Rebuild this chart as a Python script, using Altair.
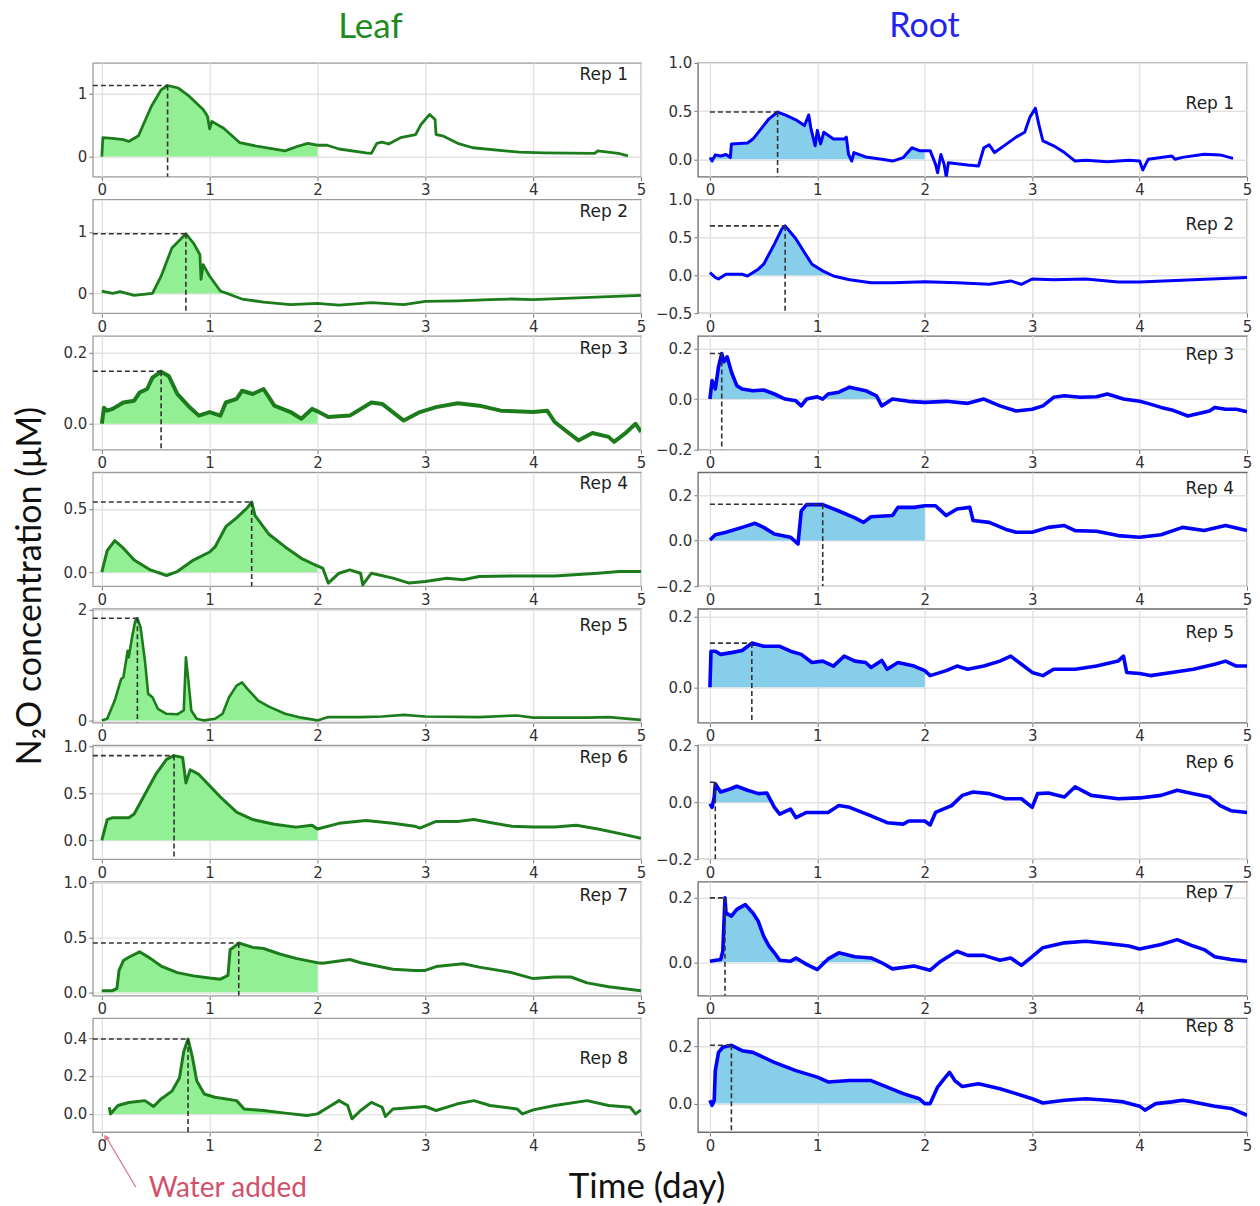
import altair as alt
import pandas as pd

# ---------------- Leaf series (time in days, N2O in uM) ----------------
leaf1_t = [0, 0.01, 0.1, 0.2, 0.25, 0.34, 0.46, 0.55, 0.61, 0.71, 0.81, 0.94, 0.98, 1.0, 1.02, 1.13, 1.28, 1.45, 1.7, 1.81,
           1.91, 2.0, 2.09, 2.2, 2.45, 2.5, 2.55, 2.6, 2.66, 2.77, 2.91, 2.96, 3.04, 3.09, 3.1, 3.16, 3.3, 3.44, 3.87, 4.1,
           4.57, 4.6, 4.79, 4.88]
leaf1_v = [0, 0.30, 0.29, 0.27, 0.24, 0.33, 0.80, 1.06, 1.13, 1.09, 0.96, 0.75, 0.64, 0.44, 0.56, 0.45, 0.22, 0.16, 0.09, 0.16,
           0.21, 0.18, 0.18, 0.12, 0.06, 0.05, 0.21, 0.23, 0.20, 0.30, 0.35, 0.51, 0.67, 0.59, 0.35, 0.33, 0.21, 0.14, 0.07, 0.06,
           0.05, 0.09, 0.05, 0.01]
leaf2_t = [0, 0.1, 0.17, 0.3, 0.47, 0.55, 0.65, 0.78, 0.85, 0.91, 0.92, 0.94, 1.0, 1.1, 1.3, 1.5, 1.75, 2.0, 2.2, 2.5,
           2.8, 3.0, 3.3, 3.6, 3.8, 4.0, 5.0]
leaf2_v = [0.04, 0.0, 0.03, -0.03, 0.0, 0.28, 0.74, 0.97, 0.82, 0.63, 0.23, 0.47, 0.28, 0.04, -0.09, -0.14, -0.18, -0.16, -0.19, -0.15,
           -0.18, -0.13, -0.12, -0.10, -0.09, -0.10, -0.03]
leaf3_t = [0, 0.02, 0.05, 0.1, 0.2, 0.3, 0.35, 0.42, 0.47, 0.55, 0.62, 0.7, 0.8, 0.9, 1.0, 1.1, 1.15, 1.25, 1.3, 1.4,
           1.5, 1.6, 1.75, 1.85, 1.95, 2.0, 2.1, 2.3, 2.5, 2.6, 2.8, 2.95, 3.1, 3.3, 3.5, 3.7, 4.0, 4.13, 4.2, 4.3,
           4.42, 4.55, 4.7, 4.75, 4.85, 4.95, 5.0]
leaf3_v = [0.0, 0.045, 0.037, 0.042, 0.06, 0.065, 0.088, 0.098, 0.13, 0.147, 0.135, 0.084, 0.051, 0.023, 0.033, 0.023, 0.06, 0.07, 0.093, 0.084,
           0.098, 0.051, 0.033, 0.014, 0.042, 0.035, 0.019, 0.023, 0.06, 0.056, 0.009, 0.033, 0.047, 0.058, 0.051, 0.037, 0.033, 0.037, 0.005, -0.019,
           -0.047, -0.026, -0.037, -0.051, -0.028, 0.0, -0.023]
leaf4_t = [0, 0.05, 0.12, 0.2, 0.3, 0.45, 0.6, 0.7, 0.85, 1.0, 1.05, 1.15, 1.25, 1.35, 1.39, 1.42, 1.55, 1.7, 1.85, 1.98,
           2.0, 2.05, 2.1, 2.2, 2.3, 2.4, 2.42, 2.5, 2.7, 2.85, 3.0, 3.2, 3.35, 3.5, 3.8, 4.2, 4.6, 4.8, 5.0]
leaf4_v = [0.0, 0.17, 0.25, 0.19, 0.096, 0.018, -0.026, 0.005, 0.096, 0.16, 0.2, 0.36, 0.43, 0.51, 0.555, 0.45, 0.30, 0.2, 0.11, 0.057,
           0.05, 0.03, -0.086, -0.008, 0.018, -0.008, -0.1, -0.008, -0.047, -0.086, -0.073, -0.047, -0.06, -0.034, -0.029, -0.029, -0.008, 0.005, 0.005]
leaf5_t = [0, 0.05, 0.12, 0.18, 0.2, 0.22, 0.24, 0.25, 0.28, 0.31, 0.33, 0.36, 0.4, 0.43, 0.47, 0.52, 0.6, 0.7, 0.76, 0.78,
           0.8, 0.83, 0.88, 0.95, 1.05, 1.12, 1.18, 1.25, 1.3, 1.35, 1.45, 1.55, 1.7, 1.85, 2.0, 2.1, 2.4, 2.6, 2.8, 3.0,
           3.5, 3.85, 4.0, 4.5, 4.7, 5.0]
leaf5_v = [0, 0.03, 0.36, 0.75, 0.78, 1.02, 1.26, 1.14, 1.5, 1.8, 1.85, 1.68, 1.08, 0.48, 0.42, 0.21, 0.12, 0.11, 0.18, 1.14,
           0.78, 0.18, 0.03, 0.0, 0.03, 0.12, 0.42, 0.63, 0.69, 0.57, 0.36, 0.25, 0.12, 0.05, 0.0, 0.06, 0.06, 0.07, 0.10, 0.07,
           0.06, 0.09, 0.05, 0.05, 0.06, 0.01]
leaf6_t = [0, 0.05, 0.1, 0.25, 0.3, 0.4, 0.5, 0.6, 0.67, 0.75, 0.78, 0.82, 0.9, 1.0, 1.1, 1.25, 1.4, 1.6, 1.8, 1.95,
           2.0, 2.2, 2.45, 2.7, 2.9, 2.95, 3.1, 3.3, 3.45, 3.6, 3.8, 4.0, 4.2, 4.4, 4.6, 4.85, 5.0]
leaf6_v = [0, 0.22, 0.24, 0.24, 0.28, 0.49, 0.70, 0.86, 0.90, 0.88, 0.61, 0.75, 0.70, 0.58, 0.46, 0.30, 0.22, 0.17, 0.14, 0.16,
           0.12, 0.18, 0.21, 0.18, 0.15, 0.13, 0.2, 0.2, 0.22, 0.19, 0.15, 0.14, 0.14, 0.16, 0.12, 0.06, 0.02]
leaf7_t = [0, 0.1, 0.14, 0.16, 0.2, 0.25, 0.35, 0.45, 0.55, 0.7, 0.85, 1.0, 1.1, 1.17, 1.19, 1.22, 1.27, 1.4, 1.5, 1.65,
           1.8, 1.95, 2.0, 2.05, 2.15, 2.3, 2.4, 2.55, 2.7, 2.9, 3.0, 3.1, 3.35, 3.5, 3.8, 4.0, 4.2, 4.35, 4.5, 4.7, 5.0]
leaf7_v = [0.015, 0.015, 0.036, 0.2, 0.29, 0.32, 0.37, 0.31, 0.24, 0.18, 0.15, 0.13, 0.12, 0.155, 0.39, 0.41, 0.45, 0.41, 0.40, 0.35,
           0.31, 0.28, 0.27, 0.265, 0.28, 0.30, 0.27, 0.24, 0.21, 0.2, 0.2, 0.235, 0.26, 0.23, 0.18, 0.125, 0.14, 0.14, 0.086, 0.05, 0.015]
leaf8_t = [0.07, 0.08, 0.15, 0.25, 0.4, 0.48, 0.55, 0.65, 0.72, 0.76, 0.8, 0.84, 0.88, 0.95, 1.05, 1.25, 1.32, 1.5, 1.7, 1.9,
           2.0, 2.1, 2.2, 2.28, 2.32, 2.4, 2.5, 2.6, 2.63, 2.7, 3.0, 3.1, 3.3, 3.45, 3.6, 3.85, 3.9, 4.0, 4.2, 4.5,
           4.7, 4.9, 4.95, 5.0]
leaf8_v = [0.035, 0.0, 0.044, 0.06, 0.07, 0.039, 0.079, 0.12, 0.19, 0.33, 0.395, 0.3, 0.175, 0.105, 0.088, 0.07, 0.026, 0.018, 0.004, -0.009,
           0.0, 0.035, 0.07, 0.044, -0.026, 0.018, 0.061, 0.035, -0.014, 0.026, 0.039, 0.018, 0.053, 0.07, 0.044, 0.026, 0.0, 0.021, 0.044, 0.07,
           0.044, 0.035, 0.0, 0.021]

# ---------------- Root series ----------------
root1_t = [0, 0.02, 0.05, 0.1, 0.15, 0.19, 0.2, 0.35, 0.4, 0.45, 0.55, 0.63, 0.7, 0.8, 0.88, 0.92, 0.94, 0.98, 1.0, 1.03,
           1.06, 1.15, 1.25, 1.27, 1.29, 1.32, 1.34, 1.45, 1.6, 1.7, 1.8, 1.88, 1.95, 2.0, 2.05, 2.1, 2.12, 2.15, 2.18, 2.2,
           2.22, 2.3, 2.4, 2.5, 2.55, 2.6, 2.65, 2.75, 2.85, 2.93, 2.98, 3.03, 3.06, 3.1, 3.2, 3.3, 3.4, 3.5, 3.7, 3.9,
           4.0, 4.03, 4.08, 4.2, 4.3, 4.33, 4.4, 4.6, 4.75, 4.87]
root1_v = [0.018, -0.018, 0.046, 0.035, 0.05, 0.018, 0.16, 0.17, 0.21, 0.28, 0.42, 0.49, 0.46, 0.41, 0.35, 0.46, 0.32, 0.14, 0.30, 0.16,
           0.28, 0.21, 0.21, 0.23, 0.053, -0.018, 0.07, 0.025, 0.0, -0.018, 0.018, 0.12, 0.09, 0.09, 0.09, -0.05, -0.14, 0.05, -0.05, -0.18,
           -0.035, -0.046, -0.06, -0.07, 0.12, 0.15, 0.07, 0.15, 0.23, 0.28, 0.44, 0.53, 0.37, 0.19, 0.14, 0.07, -0.018, -0.01, -0.025, -0.01,
           -0.018, -0.11, 0.0, 0.018, 0.035, 0.0, 0.02, 0.053, 0.046, 0.01]
root2_t = [0, 0.05, 0.08, 0.15, 0.3, 0.35, 0.45, 0.5, 0.6, 0.67, 0.7, 0.8, 0.88, 0.95, 1.05, 1.15, 1.3, 1.5, 1.7, 2.0,
           2.3, 2.6, 2.8, 2.9, 3.0, 3.2, 3.5, 3.8, 4.0, 5.0]
root2_v = [0.035, -0.03, -0.05, 0.013, 0.013, -0.01, 0.08, 0.145, 0.41, 0.61, 0.65, 0.48, 0.3, 0.145, 0.057, -0.01, -0.06, -0.1, -0.1, -0.085,
           -0.1, -0.12, -0.075, -0.12, -0.05, -0.06, -0.05, -0.09, -0.09, -0.03]
root3_t = [0, 0.02, 0.05, 0.08, 0.11, 0.13, 0.16, 0.2, 0.25, 0.3, 0.4, 0.5, 0.6, 0.7, 0.8, 0.85, 0.9, 1.0, 1.05, 1.1,
           1.2, 1.3, 1.45, 1.55, 1.6, 1.7, 1.85, 2.0, 2.2, 2.4, 2.55, 2.7, 2.85, 3.0, 3.1, 3.2, 3.3, 3.45, 3.6, 3.7,
           3.85, 4.0, 4.1, 4.2, 4.3, 4.45, 4.55, 4.65, 4.7, 4.8, 4.9, 5.0]
root3_v = [0.0, 0.073, 0.04, 0.127, 0.18, 0.147, 0.167, 0.107, 0.053, 0.04, 0.033, 0.036, 0.02, 0.0, -0.007, -0.027, 0.0, 0.009, 0.0, 0.02,
           0.027, 0.047, 0.033, 0.013, -0.027, 0.0, -0.009, -0.013, -0.009, -0.017, 0.0, -0.027, -0.047, -0.04, -0.027, 0.007, 0.013, 0.007, 0.009, 0.02,
           0.0, -0.009, -0.02, -0.033, -0.043, -0.067, -0.057, -0.047, -0.033, -0.04, -0.04, -0.05]
root4_t = [0, 0.05, 0.15, 0.3, 0.42, 0.5, 0.6, 0.75, 0.82, 0.85, 0.9, 1.05, 1.2, 1.35, 1.43, 1.5, 1.7, 1.75, 1.9, 2.0,
           2.1, 2.2, 2.3, 2.42, 2.45, 2.6, 2.75, 2.85, 3.0, 3.15, 3.3, 3.4, 3.6, 3.8, 4.0, 4.2, 4.4, 4.6, 4.8, 5.0]
root4_v = [0.003, 0.026, 0.037, 0.058, 0.076, 0.058, 0.029, 0.015, -0.015, 0.13, 0.158, 0.158, 0.13, 0.1, 0.08, 0.105, 0.11, 0.146, 0.146, 0.153,
           0.153, 0.11, 0.139, 0.146, 0.088, 0.08, 0.05, 0.037, 0.037, 0.058, 0.066, 0.044, 0.041, 0.022, 0.015, 0.026, 0.058, 0.044, 0.066, 0.044]
root5_t = [0, 0.01, 0.05, 0.1, 0.2, 0.3, 0.39, 0.5, 0.65, 0.75, 0.85, 0.95, 1.05, 1.15, 1.25, 1.35, 1.45, 1.5, 1.6, 1.65,
           1.75, 1.9, 2.0, 2.05, 2.2, 2.3, 2.4, 2.55, 2.7, 2.8, 2.9, 3.0, 3.1, 3.2, 3.4, 3.6, 3.8, 3.85, 3.88, 4.0,
           4.1, 4.3, 4.5, 4.7, 4.8, 4.9, 5.0]
root5_v = [0, 0.102, 0.102, 0.093, 0.098, 0.104, 0.125, 0.116, 0.116, 0.102, 0.093, 0.07, 0.074, 0.06, 0.088, 0.074, 0.07, 0.056, 0.076, 0.051,
           0.07, 0.06, 0.047, 0.033, 0.047, 0.06, 0.051, 0.06, 0.074, 0.088, 0.065, 0.042, 0.033, 0.051, 0.051, 0.06, 0.074, 0.088, 0.042, 0.039,
           0.033, 0.042, 0.051, 0.065, 0.074, 0.06, 0.06]
root6_t = [0, 0.02, 0.04, 0.05, 0.1, 0.2, 0.25, 0.35, 0.45, 0.53, 0.6, 0.65, 0.75, 0.8, 0.9, 1.1, 1.2, 1.3, 1.5, 1.65,
           1.8, 1.85, 2.0, 2.05, 2.1, 2.25, 2.35, 2.45, 2.6, 2.75, 2.9, 3.0, 3.05, 3.15, 3.3, 3.4, 3.55, 3.8, 4.0, 4.2,
           4.35, 4.5, 4.65, 4.75, 4.85, 5.0]
root6_v = [-0.006, -0.018, 0.018, 0.065, 0.036, 0.048, 0.056, 0.042, 0.03, 0.032, -0.018, -0.042, -0.024, -0.054, -0.036, -0.036, -0.012, -0.018, -0.048, -0.072,
           -0.077, -0.066, -0.066, -0.08, -0.036, -0.012, 0.024, 0.036, 0.03, 0.012, 0.012, -0.018, 0.03, 0.032, 0.018, 0.054, 0.024, 0.012, 0.015, 0.024,
           0.042, 0.03, 0.018, -0.012, -0.03, -0.036]
root7_t = [0, 0.1, 0.12, 0.14, 0.15, 0.2, 0.25, 0.33, 0.4, 0.45, 0.5, 0.55, 0.6, 0.65, 0.75, 0.8, 0.9, 1.0, 1.1, 1.2,
           1.35, 1.5, 1.6, 1.7, 1.9, 2.05, 2.15, 2.3, 2.4, 2.55, 2.7, 2.8, 2.9, 3.0, 3.1, 3.3, 3.5, 3.7, 3.9, 4.0,
           4.2, 4.35, 4.5, 4.6, 4.7, 4.85, 5.0]
root7_v = [0.003, 0.008, 0.034, 0.2, 0.153, 0.143, 0.164, 0.179, 0.153, 0.127, 0.081, 0.05, 0.029, 0.006, 0.003, 0.013, -0.007, -0.023, 0.01, 0.029,
           0.017, 0.013, -0.002, -0.021, -0.012, -0.025, 0.003, 0.034, 0.021, 0.021, 0.006, 0.013, -0.01, 0.017, 0.045, 0.06, 0.065, 0.058, 0.05, 0.041,
           0.055, 0.07, 0.05, 0.039, 0.017, 0.008, 0.003]
root8_t = [0, 0.02, 0.04, 0.05, 0.08, 0.12, 0.2, 0.3, 0.4, 0.6, 0.8, 1.0, 1.1, 1.3, 1.5, 1.65, 1.8, 1.95, 2.0, 2.05,
           2.12, 2.18, 2.23, 2.28, 2.35, 2.5, 2.7, 2.85, 3.0, 3.1, 3.3, 3.5, 3.7, 3.85, 4.0, 4.05, 4.15, 4.3, 4.4, 4.5,
           4.7, 4.85, 5.0]
root8_v = [0.012, -0.006, 0.012, 0.116, 0.18, 0.198, 0.205, 0.186, 0.18, 0.145, 0.116, 0.093, 0.076, 0.081, 0.081, 0.058, 0.035, 0.017, 0.0, 0.0,
           0.058, 0.087, 0.11, 0.081, 0.06, 0.07, 0.052, 0.035, 0.017, 0.002, 0.012, 0.017, 0.012, 0.006, -0.009, -0.023, 0.0, 0.006, 0.012, 0.006,
           -0.009, -0.017, -0.041]

# ---------------- Peak markers (dashed guides) ----------------
leaf_peak_t = [0.61, 0.78, 0.55, 1.39, 0.33, 0.67, 1.27, 0.80]
leaf_peak_v = [1.13, 0.97, 0.148, 0.555, 1.85, 0.90, 0.45, 0.395]
root_peak_t = [0.63, 0.70, 0.11, 1.05, 0.39, 0.05, 0.14, 0.20]
root_peak_v = [0.49, 0.65, 0.18, 0.16, 0.125, 0.07, 0.20, 0.205]

# ---------------- Axis ranges / ticks ----------------
leaf_ymin = [-0.32, -0.32, -0.073, -0.11, -0.04, -0.2, -0.03, -0.096]
leaf_ymax = [1.49, 1.53, 0.248, 0.79, 2.02, 1.01, 1.01, 0.505]
leaf_yticks = [[0, 1], [0, 1], [0, 0.2], [0, 0.5], [0, 1, 2], [0, 0.5, 1], [0, 0.5, 1], [0, 0.2, 0.4]]
leaf_yfmt = ["d", "d", ".1f", ".1f", "d", ".1f", ".1f", ".1f"]
root_ymin = [-0.18, -0.5, -0.2, -0.2, -0.1, -0.2, -0.104, -0.1]
root_ymax = [1.0, 1.0, 0.25, 0.3, 0.222, 0.2, 0.25, 0.3]
root_yticks = [[0, 0.5, 1], [-0.5, 0, 0.5, 1], [-0.2, 0, 0.2], [-0.2, 0, 0.2], [0, 0.2], [-0.2, 0, 0.2], [0, 0.2], [0, 0.2]]
x_ticks = [0, 1, 2, 3, 4, 5]
rep_labels = ["Rep 1", "Rep 2", "Rep 3", "Rep 4", "Rep 5", "Rep 6", "Rep 7", "Rep 8"]

# label vertical offsets inside panels (px from top) and line widths (style)
leaf_rep_dy = [12, 13, 13, 12, 17, 13, 14, 41]
root_rep_dy = [41, 26, 19, 17, 24, 18, 11, 9]
leaf_lw = [2.8, 2.8, 4.0, 3.0, 2.6, 3.0, 3.0, 3.0]
root_lw = [3.0, 3.0, 3.6, 3.6, 3.6, 3.6, 3.6, 3.6]

LEAF_LINE = "#1c7c1c"
LEAF_FILL = "#93ef93"
ROOT_LINE = "#0000ff"
ROOT_FILL = "#87ceeb"
PANEL_H = 114
LEAF_W = 549
ROOT_W = 550
LEAF_XMIN = -0.083
ROOT_XMIN = -0.112

leaf_t = [leaf1_t, leaf2_t, leaf3_t, leaf4_t, leaf5_t, leaf6_t, leaf7_t, leaf8_t]
leaf_v = [leaf1_v, leaf2_v, leaf3_v, leaf4_v, leaf5_v, leaf6_v, leaf7_v, leaf8_v]
root_t = [root1_t, root2_t, root3_t, root4_t, root5_t, root6_t, root7_t, root8_t]
root_v = [root1_v, root2_v, root3_v, root4_v, root5_v, root6_v, root7_v, root8_v]


def make_axis(values, fmt):
    return alt.Axis(values=values, format=fmt, title=None, grid=True, gridColor="#e2e2e2", gridWidth=1.4,
                    domain=False, ticks=True, tickSize=4, tickColor="#777", tickWidth=1,
                    labelFont="DejaVu Sans", labelFontSize=15, labelColor="#333", labelPadding=2,
                    labelFlush=False, labelOverlap=False)


def panel(t, v, pk_t, pk_v, ymin, ymax, yticks, yfmt, xmin, hstart, width, rep, rep_dy,
          line_col, fill_col, frame_col, lw, extra=()):
    xs = alt.Scale(domain=[xmin, 5], nice=False, zero=False)
    ys = alt.Scale(domain=[ymin, ymax], nice=False, zero=False)
    xa = make_axis(x_ticks, "d")
    ya = make_axis(yticks, yfmt)
    df = pd.DataFrame({"t": t, "v": v})
    adf = df[df["t"] <= 2.0].copy()
    adf["vp"] = adf["v"].clip(lower=0)
    pk = pd.DataFrame({"hs": [hstart], "px": [pk_t], "py": [pk_v], "yb": [ymin]})

    area = alt.Chart(adf).mark_area(color=fill_col, opacity=1, clip=True).encode(
        x=alt.X("t:Q", scale=xs, axis=xa),
        y=alt.Y("vp:Q", scale=ys, axis=ya),
        y2=alt.datum(0),
    )
    line = alt.Chart(df).mark_line(color=line_col, strokeWidth=lw, clip=True, strokeJoin="round").encode(
        x=alt.X("t:Q", scale=xs, axis=xa),
        y=alt.Y("v:Q", scale=ys, axis=ya),
    )
    hrule = alt.Chart(pk).mark_rule(color="#333333", strokeDash=[5, 3], strokeWidth=1.6).encode(
        x=alt.X("hs:Q", scale=xs, axis=xa), x2="px:Q",
        y=alt.Y("py:Q", scale=ys, axis=ya),
    )
    vrule = alt.Chart(pk).mark_rule(color="#333333", strokeDash=[5, 3], strokeWidth=1.6).encode(
        x=alt.X("px:Q", scale=xs, axis=xa),
        y=alt.Y("py:Q", scale=ys, axis=ya), y2="yb:Q",
    )
    txt = alt.Chart(pd.DataFrame({"lab": [rep]})).mark_text(
        align="right", baseline="middle", fontSize=17, font="DejaVu Sans", color="#222"
    ).encode(x=alt.value(width - 13), y=alt.value(rep_dy), text="lab:N")
    return alt.layer(area, line, hrule, vrule, txt, *extra).properties(
        width=width, height=PANEL_H,
        view=alt.ViewBackground(stroke=frame_col, strokeWidth=1.3),
    )


# ---------------- annotations (placed relative to first panel) ----------------
one = pd.DataFrame({"k": [0]})
ORIGIN_X, ORIGIN_Y = 92, 61


def ann_text(s, x, y, size, color, align="center", angle=0, font="Lato"):
    return alt.Chart(pd.DataFrame({"s": [s]})).mark_text(
        align=align, baseline="middle", fontSize=size, font=font, color=color, angle=angle
    ).encode(x=alt.value(x - ORIGIN_X), y=alt.value(y - ORIGIN_Y), text="s:N")


anchor_top = alt.Chart(one).mark_rule(strokeOpacity=0, strokeWidth=0.01).encode(
    x=alt.value(-ORIGIN_X), x2=alt.value(1260 - ORIGIN_X), y=alt.value(-ORIGIN_Y))
anchor_bot = alt.Chart(one).mark_rule(strokeOpacity=0, strokeWidth=0.01).encode(
    x=alt.value(-ORIGIN_X), x2=alt.value(1260 - ORIGIN_X), y=alt.value(1206 - ORIGIN_Y))
arrow = alt.Chart(one).mark_rule(color="#e07a8c", strokeWidth=1.2).encode(
    x=alt.value(135 - ORIGIN_X), y=alt.value(1187 - ORIGIN_Y),
    x2=alt.value(106 - ORIGIN_X), y2=alt.value(1138 - ORIGIN_Y))
arrow_head = alt.Chart(one).mark_point(shape="triangle-up", filled=True, size=45, color="#e07a8c",
                                       angle=330, opacity=1).encode(
    x=alt.value(105 - ORIGIN_X), y=alt.value(1137 - ORIGIN_Y))

annotations = [
    anchor_top, anchor_bot,
    ann_text("Leaf", 370, 25, 35, "#1f8a1f"),
    ann_text("Root", 925, 25, 34, "#2323f0"),
    ann_text("N\u2082O concentration (\u03bcM)", 30, 585, 34, "#111", angle=270),
    ann_text("Time (day)", 647, 1187, 35, "#111"),
    ann_text("Water added", 148, 1189, 28, "#d4506a", align="left"),
    arrow, arrow_head,
]

panels = []
for i in range(8):
    lp = panel(leaf_t[i], leaf_v[i], leaf_peak_t[i], leaf_peak_v[i], leaf_ymin[i], leaf_ymax[i],
               leaf_yticks[i], leaf_yfmt[i], LEAF_XMIN, LEAF_XMIN, LEAF_W, rep_labels[i], leaf_rep_dy[i],
               LEAF_LINE, LEAF_FILL, "#9a9a9a", leaf_lw[i], extra=annotations if i == 0 else ())
    rp = panel(root_t[i], root_v[i], root_peak_t[i], root_peak_v[i], root_ymin[i], root_ymax[i],
               root_yticks[i], ".1f", ROOT_XMIN, 0.0, ROOT_W, rep_labels[i], root_rep_dy[i],
               ROOT_LINE, ROOT_FILL, "#6a6a6a", root_lw[i])
    panels += [lp, rp]

chart = alt.concat(*panels, columns=2, spacing={"row": 22.7, "column": 57}, bounds="flush").properties(
    padding=0, background="white"
).configure_view(strokeWidth=1.3)

chart.save("out.html", embed_options={"renderer": "svg", "actions": False})
